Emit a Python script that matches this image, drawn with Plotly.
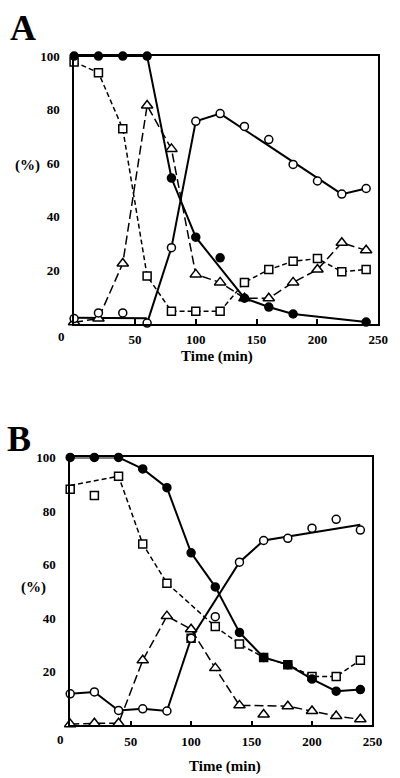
import plotly.graph_objects as go

# ---------------- data ----------------
time = [0, 20, 40, 60, 80, 100, 120, 140, 160, 180, 200, 220, 240]
x_tick_vals = [50, 100, 150, 200, 250]
x_tick_text = ["50", "100", "150", "200", "250"]
y_tick_vals = [20, 40, 60, 80, 100]
y_tick_text = ["20", "40", "60", "80", "100"]

# Panel A (markers)
A_filled_t = [0, 20, 40, 60, 80, 100, 120, 140, 160, 180, 240]
A_filled = [100, 100, 100, 100, 54.4, 32.3, 24.6, 9.5, 6.2, 3.6, 0.6]
A_open = [1.9, 4.0, 4.0, 0.2, 28.4, 75.6, 78.5, 73.7, 68.8, 59.5, 53.3, 48.4, 50.5]
A_square = [97.8, 93.8, 72.8, 17.8, 4.6, 4.6, 4.6, 15.4, 20.2, 23.3, 24.3, 19.4, 20.2]
A_triangle = [0.5, 1.9, 22.5, 81.5, 65.3, 18.4, 15.4, 9.5, 9.5, 15.4, 20.2, 30.2, 27.4]
# Panel A (drawn curves)
A_filled_line_t = [0, 60, 80, 100, 140, 160, 180, 240]
A_filled_line = [100, 100, 54.4, 32.3, 9.5, 6.2, 3.6, 0.6]
A_open_line_t = [0, 59, 60, 80, 100, 120, 220, 240]
A_open_line = [2.2, 2.0, 0.2, 28.4, 75.6, 78.5, 48.4, 50.5]

# Panel B (markers)
B_filled = [100, 100, 100, 95.7, 88.7, 64.4, 51.7, 34.7, 25.4, 22.7, 17.3, 12.8, 13.4]
B_open = [11.8, 12.5, 5.6, 6.2, 5.4, 32.5, 40.6, 60.9, 69.0, 69.8, 73.6, 76.9, 72.9]
B_square = [88.1, 85.8, 93.0, 67.7, 53.1, 32.5, 36.9, 30.4, 25.4, 22.7, 18.3, 18.3, 24.3]
B_triangle = [0.5, 0.8, 0.8, 24.3, 40.8, 35.9, 21.4, 7.5, 4.1, 7.2, 5.4, 3.5, 2.3]
# Panel B (drawn curves)
B_open_line_t = [0, 20, 40, 60, 80, 100, 140, 160, 240]
B_open_line = [11.8, 12.5, 5.6, 6.2, 5.4, 32.5, 60.9, 69.0, 74.9]
B_square_line_t = [0, 40, 60, 80, 120, 140, 160, 180, 200, 220, 240]
B_square_line = [89.5, 93.0, 67.7, 53.1, 36.9, 30.4, 25.4, 22.7, 18.3, 18.3, 24.3]
B_triangle_line_t = [0, 20, 40, 60, 80, 100, 120, 140, 180, 200, 220, 240]
B_triangle_line = [0.5, 0.8, 0.8, 24.3, 40.8, 35.9, 21.4, 7.5, 7.2, 5.4, 3.5, 2.3]

# ---------------- styling ----------------
FONT = "Liberation Serif"
SQ_DASH = "5px,3px"
TRI_DASH = "9px,4px"

fig = go.Figure()


def add_line(x, y, dash, width, xa, ya):
    fig.add_trace(go.Scatter(x=x, y=y, mode="lines", xaxis=xa, yaxis=ya,
                             line=dict(color="black", width=width, dash=dash),
                             cliponaxis=False, hoverinfo="skip"))


def add_marks(x, y, symbol, size, fill, xa, ya):
    fig.add_trace(go.Scatter(x=x, y=y, mode="markers", xaxis=xa, yaxis=ya,
                             marker=dict(symbol=symbol, size=size, color=fill,
                                         line=dict(color="black", width=1.5)),
                             cliponaxis=False))


# Panel A
add_line(time, A_square, SQ_DASH, 1.5, "x", "y")
add_line(time, A_triangle, TRI_DASH, 1.5, "x", "y")
add_line(A_open_line_t, A_open_line, "solid", 2, "x", "y")
add_line(A_filled_line_t, A_filled_line, "solid", 2, "x", "y")
add_marks(time, A_square, "square", 8, "white", "x", "y")
add_marks(time, A_triangle, "triangle-up", 10, "white", "x", "y")
add_marks(time, A_open, "circle", 8, "white", "x", "y")
add_marks(A_filled_t, A_filled, "circle", 8, "black", "x", "y")

# Panel B
add_line(B_square_line_t, B_square_line, SQ_DASH, 1.5, "x2", "y2")
add_line(B_triangle_line_t, B_triangle_line, TRI_DASH, 1.5, "x2", "y2")
add_line(B_open_line_t, B_open_line, "solid", 2, "x2", "y2")
add_line(time, B_filled, "solid", 2, "x2", "y2")
add_marks(time, B_square, "square", 8, "white", "x2", "y2")
add_marks(time, B_triangle, "triangle-up", 10, "white", "x2", "y2")
add_marks(time, B_open, "circle", 8, "white", "x2", "y2")
add_marks(time, B_filled, "circle", 8, "black", "x2", "y2")

tickfont = dict(family=FONT, size=13, color="black", weight="bold")

xcommon = dict(range=[0, 250], showline=True, mirror=True, linecolor="black",
               linewidth=1.5, ticks="inside", ticklen=5, tickwidth=1.5,
               tickcolor="black", tickvals=x_tick_vals, ticktext=x_tick_text,
               showgrid=False, zeroline=False, tickfont=tickfont,
               ticklabelstandoff=3)
ycommon = dict(range=[0, 100], showline=True, mirror=True, linecolor="black",
               linewidth=1.5, ticks="", tickvals=y_tick_vals,
               ticktext=y_tick_text, showgrid=False, zeroline=False,
               tickfont=tickfont, ticklabelstandoff=10)

W, H = 400, 778
fig.update_layout(
    width=W, height=H, margin=dict(l=0, r=0, t=0, b=0, pad=0),
    paper_bgcolor="white", plot_bgcolor="white", showlegend=False,
    xaxis=dict(domain=[76 / W, 388 / W], anchor="y", **xcommon),
    yaxis=dict(domain=[1 - 319.5 / H, 1 - 49.5 / H], anchor="x", **ycommon),
    xaxis2=dict(domain=[72 / W, 382 / W], anchor="y2", **xcommon),
    yaxis2=dict(domain=[1 - 725 / H, 1 - 454.5 / H], anchor="x2", **ycommon),
)

lab = dict(family=FONT, color="black", weight="bold")
annotations = [
    dict(text="A", x=24 / W, y=1 - 21 / H, font=dict(size=36, **lab)),
    dict(text="B", x=19 / W, y=1 - 436 / H, font=dict(size=36, **lab)),
    dict(text="(%)", x=28 / W, y=1 - 160 / H, font=dict(size=15, **lab)),
    dict(text="(%)", x=34 / W, y=1 - 586 / H, font=dict(size=15, **lab)),
    dict(text="Time (min)", x=223 / W, y=1 - 353 / H, font=dict(size=15, **lab)),
    dict(text="Time (min)", x=231 / W, y=1 - 766 / H, font=dict(size=15, **lab)),
    dict(text="0", x=63 / W, y=1 - 332 / H, font=dict(size=13, **lab)),
    dict(text="0", x=62 / W, y=1 - 739 / H, font=dict(size=13, **lab)),
]
for a in annotations:
    fig.add_annotation(xref="paper", yref="paper", showarrow=False,
                       xanchor="center", yanchor="middle", **a)

fig.write_html(
    "out.html",
    config={"displayModeBar": False},
    post_script="document.body.style.margin='0';document.body.style.overflow='hidden';",
)
